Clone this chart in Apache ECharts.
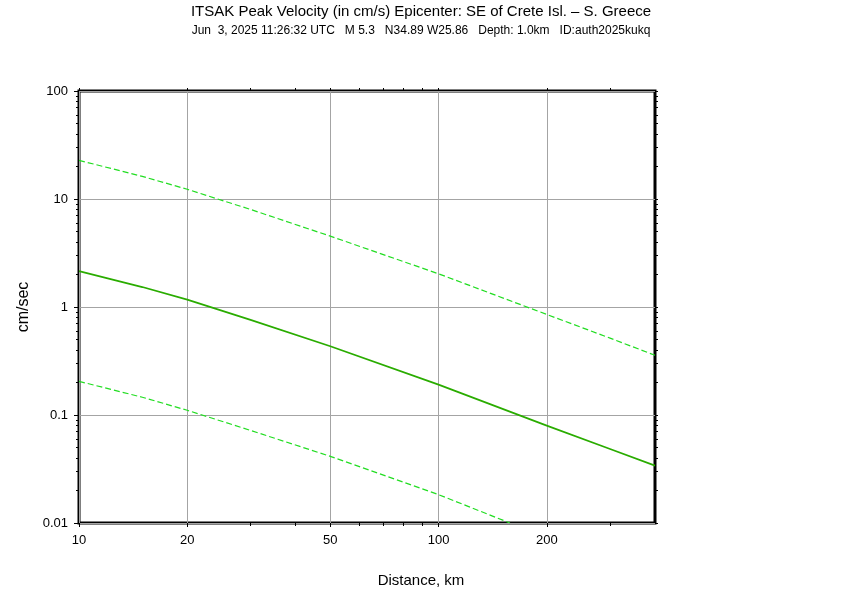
<!DOCTYPE html>
<html><head><meta charset="utf-8">
<script src="https://cdn.jsdelivr.net/npm/echarts@6/dist/echarts.min.js"></script>
<style>html,body{margin:0;padding:0;background:#fff}#c{width:842px;height:595px}</style>
</head><body><div id="c"></div>
<script>
// ---- data ----
const distances   = [10, 15, 20, 30, 50, 100, 200, 300, 400];
const medianPGV   = [2.15, 1.53, 1.17, 0.76, 0.433, 0.191, 0.0797, 0.0485, 0.034];
const upperPGV    = [22.8, 16.2, 12.3, 8.0, 4.53, 2.03, 0.853, 0.515, 0.357];
const lowerDist   = [10, 15, 20, 30, 50, 100, 158];
const lowerPGV    = [0.205, 0.146, 0.1106, 0.072, 0.0414, 0.0183, 0.01];
const xLabelTicks = [10, 20, 50, 100, 200];
const xMinorTicks = [30, 40, 60, 70, 80, 90, 300];
const xAllTicks   = [10, 20, 30, 40, 50, 60, 70, 80, 90, 100, 200, 300];
const yMinorTicks = [0.02,0.03,0.04,0.05,0.06,0.07,0.08,0.09,
                     0.2,0.3,0.4,0.5,0.6,0.7,0.8,0.9,
                     2,3,4,5,6,7,8,9,
                     20,30,40,50,60,70,80,90];
const yMajorTicks = [0.01, 0.1, 1, 10, 100];
const titleText = 'ITSAK Peak Velocity (in cm/s) Epicenter: SE of Crete Isl. \u2013 S. Greece';
const subText = 'Jun  3, 2025 11:26:32 UTC   M 5.3   N34.89 W25.86   Depth: 1.0km   ID:auth2025kukq';
const xName = 'Distance, km';
const yName = 'cm/sec';

const FONT = '"Liberation Sans", Arial, Helvetica, sans-serif';
const pair = (xs, ys) => xs.map((x, i) => [x, ys[i]]);

const X_MIN = 10, X_MAX = 400, Y_MIN = 0.01, Y_MAX = 100;
const tickStyle = {color: '#000', width: 1};

function xAx(extra) {
  return Object.assign({
    type: 'log', logBase: 10, min: X_MIN, max: X_MAX,
    axisLine: {show: false},
    axisLabel: {show: false},
    splitLine: {show: false},
    axisTick: {show: true, inside: false, length: 3, lineStyle: tickStyle}
  }, extra);
}
function yAx(extra) {
  return Object.assign({
    type: 'log', logBase: 10, min: Y_MIN, max: Y_MAX,
    axisLine: {show: false},
    axisLabel: {show: false},
    splitLine: {show: false},
    axisTick: {show: true, inside: false, length: 3, lineStyle: tickStyle}
  }, extra);
}

const chart = echarts.init(document.getElementById('c'), null, {renderer: 'canvas'});
chart.setOption({
  animation: false,
  backgroundColor: '#fff',
  textStyle: {fontFamily: FONT},
  title: [
    {text: titleText, left: 'center', top: 4, padding: 0,
     textStyle: {fontFamily: FONT, fontSize: 15, fontWeight: 'normal', color: '#000'}},
    {text: subText, left: 'center', top: 25, padding: 0,
     textStyle: {fontFamily: FONT, fontSize: 12, fontWeight: 'normal', color: '#000'}},
    {text: xName, left: 'center', top: 573, padding: 0,
     textStyle: {fontFamily: FONT, fontSize: 15, fontWeight: 'normal', color: '#000'}}
  ],
  grid: {left: 79, top: 91, right: 187, bottom: 72, show: true,
         borderColor: '#000', borderWidth: 3, backgroundColor: 'transparent'},
  xAxis: [
    xAx({position: 'bottom',
         axisTick: {show: true, inside: false, length: 4, lineStyle: tickStyle, customValues: xLabelTicks},
         axisLabel: {show: true, customValues: xLabelTicks, margin: 11, fontSize: 13, color: '#000', fontFamily: FONT},
         splitLine: {show: true, lineStyle: {color: '#a4a4a4', width: 1}}}),
    xAx({position: 'bottom',
         axisTick: {show: true, inside: false, length: 3, lineStyle: tickStyle, customValues: xMinorTicks}}),
    xAx({position: 'top',
         axisTick: {show: true, inside: false, length: 3, lineStyle: tickStyle, customValues: xAllTicks}})
  ],
  yAxis: [
    yAx({position: 'left',
         name: yName, nameLocation: 'middle', nameGap: 46,
         nameTextStyle: {fontFamily: FONT, fontSize: 16, color: '#000'},
         axisTick: {show: true, inside: false, length: 5, lineStyle: tickStyle, customValues: yMajorTicks},
         axisLabel: {show: true, customValues: yMajorTicks, margin: 11, fontSize: 13, color: '#000', fontFamily: FONT},
         splitLine: {show: true, lineStyle: {color: '#a4a4a4', width: 1}}}),
    yAx({position: 'left',
         axisTick: {show: true, inside: false, length: 3, lineStyle: tickStyle, customValues: yMinorTicks}}),
    yAx({position: 'right',
         axisTick: {show: true, inside: false, length: 3, lineStyle: tickStyle, customValues: yMinorTicks.concat(yMajorTicks)}})
  ],
  series: [
    {type: 'line', name: 'upper', xAxisIndex: 0, yAxisIndex: 0, data: pair(distances, upperPGV),
     showSymbol: false, symbol: 'none', clip: true,
     lineStyle: {color: '#22dd22', width: 1.2, type: [6, 3]}},
    {type: 'line', name: 'median', xAxisIndex: 0, yAxisIndex: 0, data: pair(distances, medianPGV),
     showSymbol: false, symbol: 'none', clip: true,
     lineStyle: {color: '#2aac00', width: 1.7}},
    {type: 'line', name: 'lower', xAxisIndex: 0, yAxisIndex: 0, data: pair(lowerDist, lowerPGV),
     showSymbol: false, symbol: 'none', clip: true,
     lineStyle: {color: '#22dd22', width: 1.2, type: [6, 3]}}
  ]
});
</script></body></html>
